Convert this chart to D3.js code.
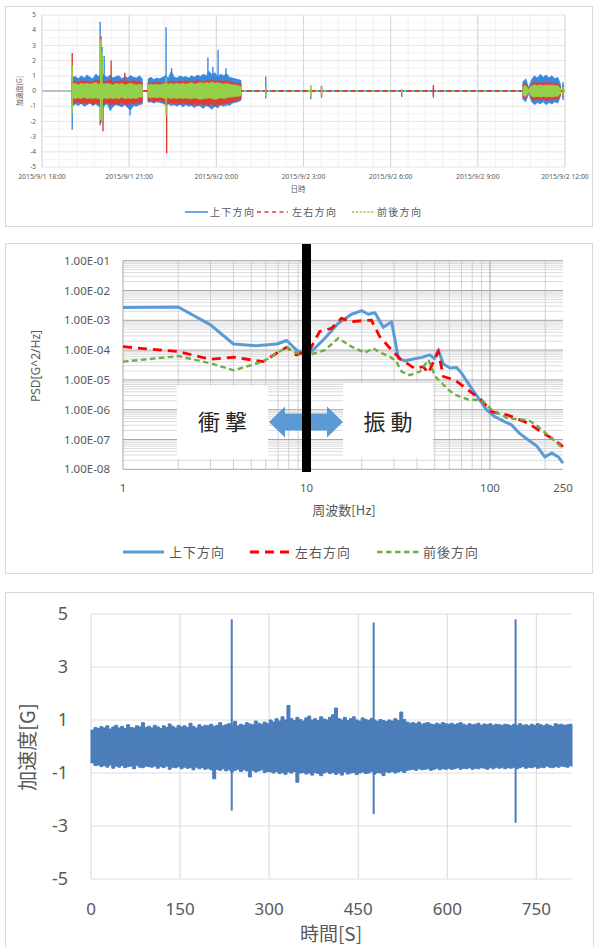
<!DOCTYPE html>
<html><head><meta charset="utf-8">
<script src="https://cdn.jsdelivr.net/npm/d3@7"></script>
<style>
html,body{margin:0;padding:0;background:#fff;}
svg{display:block;}
</style></head><body>
<svg id="c" width="595" height="947"></svg>
<script>
// ================= data =================
const seriesNames = ["上下方向", "左右方向", "前後方向"];

// --- Panel 1: acceleration record, hours after 2015/9/1 18:00 ---
const logTickHours = [0, 3, 6, 9, 12, 15, 18];
const logTickLabels = ["2015/9/1 18:00", "2015/9/1 21:00", "2015/9/2 0:00", "2015/9/2 3:00",
                       "2015/9/2 6:00", "2015/9/2 9:00", "2015/9/2 12:00"];
const logYTicks = [5, 4, 3, 2, 1, 0, -1, -2, -3, -4, -5];

// evening run: envelope (max / min per 0.1 h) starting at 1.05 h, null = no record
const eveStart = 1.05, eveStep = 0.1;
const eveHiUD = [0.9,0.95,0.8,1.0,0.85,1.05,0.9,0.8,1.1,0.95,1.2,1.0,0.9,1.05,0.85,0.95,1.0,0.8,0.95,0.85,1.0,0.9,0.85,1.0,0.8,
  null,0.8,0.9,0.75,0.85,0.8,0.9,1.0,0.85,1.3,0.9,0.85,1.0,0.9,0.95,0.85,1.0,0.9,1.05,0.95,1.1,1.0,1.3,1.05,1.2,0.95,1.1,1.0,1.15,0.9,0.85,0.8,0.75,0.7];
const eveLoUD = [-1.0,-0.85,-0.95,-0.8,-1.0,-0.9,-0.8,-0.95,-0.85,-1.0,-1.1,-0.9,-0.85,-1.3,-1.0,-0.9,-0.95,-1.05,-0.9,-1.1,-1.25,-0.95,-1.0,-0.9,-0.85,
  null,-0.75,-0.7,-0.8,-0.7,-0.75,-0.8,-0.9,-0.85,-0.95,-0.9,-1.0,-0.85,-1.05,-0.9,-1.0,-0.95,-1.1,-0.9,-1.0,-1.15,-0.95,-1.05,-1.2,-1.0,-1.1,-0.9,-1.0,-0.85,-0.95,-0.8,-0.75,-0.7,-0.6];
const eveHiLR = [0.6,0.65,0.55,0.7,0.6,0.65,0.55,0.6,0.7,0.65,0.75,0.6,0.65,0.7,0.55,0.65,0.6,0.7,0.55,0.65,0.6,0.7,0.6,0.65,0.55,
  null,0.5,0.55,0.5,0.6,0.55,0.5,0.6,0.55,0.65,0.6,0.55,0.65,0.6,0.7,0.6,0.65,0.6,0.7,0.65,0.6,0.7,0.65,0.75,0.6,0.7,0.65,0.6,0.7,0.6,0.55,0.5,0.5,0.45];
const eveLoLR = [-0.75,-0.8,-0.7,-0.85,-0.75,-0.8,-0.7,-0.9,-0.8,-0.85,-0.9,-0.8,-0.75,-0.9,-0.85,-0.8,-0.9,-0.75,-0.85,-0.95,-0.8,-0.85,-0.75,-0.8,-0.7,
  null,-0.65,-0.6,-0.7,-0.65,-0.6,-0.7,-0.75,-0.8,-0.75,-0.85,-0.8,-0.9,-0.75,-0.85,-0.8,-0.9,-0.85,-1.0,-0.8,-0.9,-0.85,-0.95,-0.8,-1.0,-0.85,-0.9,-0.8,-0.85,-0.75,-0.7,-0.65,-0.6,-0.5];
const eveHiFB = [0.45,0.5,0.4,0.5,0.45,0.5,0.45,0.5,0.55,0.45,0.5,0.45,0.5,0.45,0.4,0.5,0.45,0.5,0.4,0.45,0.5,0.45,0.4,0.45,0.4,
  null,0.4,0.45,0.4,0.45,0.4,0.45,0.5,0.45,0.5,0.45,0.5,0.45,0.5,0.45,0.5,0.55,0.45,0.5,0.55,0.5,0.55,0.5,0.6,0.5,0.55,0.5,0.45,0.5,0.45,0.4,0.4,0.35,0.3];
const eveLoFB = [-0.45,-0.5,-0.45,-0.5,-0.4,-0.5,-0.45,-0.5,-0.45,-0.5,-0.55,-0.45,-0.5,-0.45,-0.5,-0.45,-0.5,-0.4,-0.5,-0.45,-0.5,-0.45,-0.5,-0.4,-0.4,
  null,-0.4,-0.45,-0.4,-0.45,-0.4,-0.45,-0.5,-0.45,-0.5,-0.45,-0.5,-0.45,-0.5,-0.45,-0.5,-0.5,-0.45,-0.5,-0.55,-0.5,-0.5,-0.45,-0.5,-0.55,-0.5,-0.45,-0.5,-0.45,-0.4,-0.4,-0.35,-0.35,-0.3];

// morning run: envelope per 0.1 h starting at 16.55 h
const mornStart = 16.55, mornStep = 0.1;
const mornHiUD = [0.6,0.8,0.2,0.75,1.0,0.85,1.1,0.9,1.05,0.85,1.0,0.8,0.9,0.4];
const mornLoUD = [-0.55,-0.7,-0.15,-0.7,-0.9,-0.75,-0.85,-0.7,-0.9,-0.75,-0.85,-0.7,-0.8,-0.3];
const mornHiLR = [0.4,0.5,0.1,0.45,0.6,0.5,0.55,0.5,0.6,0.5,0.55,0.45,0.5,0.2];
const mornLoLR = [-0.4,-0.5,-0.1,-0.5,-0.6,-0.55,-0.6,-0.5,-0.65,-0.55,-0.6,-0.5,-0.55,-0.2];
const mornHiFB = [0.3,0.35,0.1,0.35,0.4,0.35,0.4,0.35,0.4,0.35,0.4,0.35,0.35,0.15];
const mornLoFB = [-0.3,-0.35,-0.1,-0.35,-0.4,-0.35,-0.4,-0.35,-0.4,-0.35,-0.4,-0.35,-0.35,-0.15];

// isolated peaks [hour, max, min]
const spikesUD = [[1.04,0.9,-2.55],[2.0,4.55,-2.25],[2.07,2.9,-1.2],[2.14,2.3,-1.0],[3.03,1.0,-1.6],[4.27,4.2,-0.9],
  [4.46,1.5,-0.9],[5.71,2.2,-1.0],[5.88,1.6,-1.0],[6.06,2.7,-1.1],[6.33,1.5,-1.0],[7.70,0.95,-0.5],[9.25,0.3,-0.55],
  [9.62,0.35,-0.45],[12.38,0.1,-0.4],[13.47,0.2,-0.45],[17.93,0.6,-0.6]];
const spikesLR = [[1.04,2.5,-0.8],[2.03,3.6,-2.1],[2.1,1.0,-2.65],[2.38,2.0,-0.8],[2.85,1.2,-0.9],[4.29,0.5,-4.1],
  [7.70,0.3,-0.2],[9.62,0.3,-0.3],[13.47,0.4,-0.3],[17.93,0.4,-0.4]];
const spikesFB = [[1.04,1.7,-1.45],[2.02,3.4,-1.9],[2.07,2.6,-2.0],[4.27,0.9,-1.6],[7.70,0.3,-0.3],[9.25,0.4,-0.4],
  [9.62,0.3,-0.3],[12.38,0.1,-0.1],[17.93,0.3,-0.3]];

// --- Panel 2: PSD [frequency Hz, G^2/Hz] ---
const psdUD = [[1,2.7e-3],[2,2.8e-3],[3,7e-4],[4,1.6e-4],[5.3,1.4e-4],[6.9,1.6e-4],[7.8,2.1e-4],[9,9e-5],[10.4,7.8e-5],
  [12.6,2.5e-4],[14.9,7.9e-4],[17.6,1.6e-3],[20,2.1e-3],[21.7,1.6e-3],[23.6,1.8e-3],[26.2,5.8e-4],[29.1,8.9e-4],
  [31.7,5.2e-5],[34.4,4.4e-5],[42.4,5.7e-5],[47,6.9e-5],[49.7,5.2e-5],[52.3,1e-4],[55.7,3.4e-5],[60.5,2.5e-5],
  [65.8,2.6e-5],[70.1,1.66e-5],[79.4,5.2e-6],[95.9,9.8e-7],[106,5.9e-7],[120,4e-7],[131,3.1e-7],[145,1.6e-7],
  [162,9.6e-8],[180,6e-8],[199,2.6e-8],[217,3.5e-8],[236,2.6e-8],[250,1.6e-8]];
const psdLR = [[1,1.3e-4],[2,8.9e-5],[3,4.9e-5],[4,5.8e-5],[5.8,4.1e-5],[7.8,1.26e-4],[8.8,6.9e-5],[10.4,1e-4],
  [11.8,4.2e-4],[13.7,5.4e-4],[15.5,1.17e-3],[17.3,8.9e-4],[20,9.7e-4],[22.6,1e-3],[25.1,2.8e-4],[29.1,1e-4],
  [32.3,5.2e-5],[39,2.4e-5],[43.3,2.8e-5],[46.2,1.7e-5],[48.3,3.2e-5],[52.3,8.9e-5],[55.7,1.3e-5],[64.3,1e-5],
  [75.9,4.6e-6],[90,2.1e-6],[102,8.6e-7],[125,6.6e-7],[162,3.5e-7],[183,2.1e-7],[217,1.1e-7],[250,5.8e-8]];
const psdFB = [[1,4.1e-5],[2,6.3e-5],[3,3.6e-5],[4,2.1e-5],[5.8,4.1e-5],[7.8,1.26e-4],[8.8,8e-5],[10.4,6.9e-5],
  [12.6,1e-4],[14.9,2.5e-4],[17.6,1.3e-4],[20.8,8.1e-5],[23.1,1.15e-4],[25.7,7.9e-5],[28.5,6e-5],[30.9,4.1e-5],
  [33,1.9e-5],[36.6,1.45e-5],[41.5,1.9e-5],[46.2,4.7e-5],[50.3,1.3e-5],[59.5,4.6e-6],[64.3,3.2e-6],[75.9,2.2e-6],
  [90,2.1e-6],[102,1e-6],[125,5.1e-7],[162,4.5e-7],[183,2.7e-7],[217,1.1e-7],[250,5e-8]];
const psdXTicks = [1, 10, 100, 250];
const psdYTicks = [1e-1, 1e-2, 1e-3, 1e-4, 1e-5, 1e-6, 1e-7, 1e-8];
const psdYLabels = ["1.00E-01","1.00E-02","1.00E-03","1.00E-04","1.00E-05","1.00E-06","1.00E-07","1.00E-08"];
const boundaryHz = 10;
const regionLabels = ["衝 撃", "振 動"];

// --- Panel 3: vertical acceleration, envelope per 5 s ---
const timeStep = 5;
const timeHi = [0.62,0.72,0.68,0.75,0.7,0.78,0.66,0.74,0.8,0.7,0.76,0.68,0.82,0.72,0.7,0.78,0.74,0.9,0.72,0.76,
  0.7,0.8,0.74,0.68,0.78,0.72,0.85,0.76,0.7,0.8,0.74,0.78,0.72,0.88,0.76,0.7,0.82,0.75,0.8,0.78,
  0.84,0.76,0.8,0.9,0.78,0.82,0.86,0.8,0.95,0.78,0.84,0.8,0.9,0.85,0.82,0.96,0.88,0.84,0.92,0.86,
  1.0,0.92,1.05,0.96,1.12,1.0,1.55,1.05,0.98,1.1,1.02,0.96,1.08,1.15,1.0,1.05,0.98,1.12,1.04,1.0,
  1.1,1.2,1.45,1.05,1.0,1.1,0.98,1.05,1.12,1.0,0.96,1.08,1.02,0.98,1.06,1.0,0.95,1.02,0.98,0.94,
  1.0,0.96,1.05,0.98,1.3,1.02,0.92,0.88,0.9,0.86,0.92,0.84,0.88,0.9,0.85,0.82,0.88,0.84,0.9,0.86,
  0.84,0.88,0.82,0.86,0.9,0.84,0.8,0.86,0.82,0.84,0.88,0.8,0.85,0.82,0.86,0.8,0.84,0.82,0.8,0.84,
  0.82,0.78,0.84,0.8,0.86,0.8,0.82,0.78,0.84,0.8,0.86,0.82,0.78,0.84,0.8,0.76,0.86,0.82,0.84,0.8,
  0.82,0.84,0.8];
const timeLo = [-0.62,-0.72,-0.7,-0.76,-0.72,-0.78,-0.7,-0.82,-0.74,-0.78,-0.72,-0.8,-0.76,-0.74,-0.84,-0.72,-0.78,-0.8,-0.74,-0.76,
  -0.78,-0.74,-0.82,-0.76,-0.8,-0.74,-0.86,-0.78,-0.8,-0.76,-0.84,-0.78,-0.82,-0.8,-0.88,-0.78,-0.84,-0.8,-0.86,-0.82,
  -0.88,-1.22,-0.86,-0.9,-0.84,-0.92,-0.88,-0.96,-0.9,-0.86,-0.94,-0.88,-0.92,-1.15,-0.9,-0.96,-0.92,-0.88,-0.98,-0.94,
  -0.96,-1.0,-0.94,-1.02,-0.98,-1.05,-0.96,-1.0,-0.94,-1.35,-1.0,-0.98,-1.04,-1.0,-1.08,-0.98,-1.02,-1.1,-1.0,-0.96,
  -1.02,-0.98,-1.05,-1.0,-1.08,-0.96,-1.04,-1.0,-0.98,-1.06,-1.0,-0.96,-1.02,-1.0,-0.94,-1.04,-0.98,-1.0,-1.1,-0.96,
  -0.98,-0.94,-1.0,-0.96,-0.92,-0.98,-0.9,-0.88,-0.86,-0.9,-0.84,-0.88,-0.86,-0.84,-0.9,-0.86,-0.82,-0.88,-0.84,-0.86,
  -0.82,-0.86,-0.84,-0.8,-0.86,-0.82,-0.84,-0.8,-0.86,-0.82,-0.84,-0.8,-0.82,-0.86,-0.8,-0.84,-0.78,-0.82,-0.8,-0.84,
  -0.8,-0.82,-0.78,-0.84,-0.8,-0.76,-0.82,-0.78,-0.8,-0.76,-0.82,-0.78,-0.8,-0.74,-0.78,-0.8,-0.76,-0.78,-0.74,-0.76,
  -0.78,-0.72,-0.76];
const timeSpikes = [[237, 4.8, -2.42], [476, 4.68, -2.55], [715, 4.8, -2.88]];
const timeXTicks = [0, 150, 300, 450, 600, 750];
const timeYTicks = [5, 3, 1, -1, -3, -5];

// ================= drawing =================
const svg = d3.select("#c");
const NUM = "'Noto Sans','Open Sans',sans-serif";
const CJK = "'Noto Sans CJK JP','Noto Sans',sans-serif";
const LABEL = "#595959";

// chart frames
[[5.5, 6.5, 587, 220], [5.5, 243.5, 587, 330], [5.5, 592.5, 588, 360]].forEach(([x, y, w, h]) =>
  svg.append("rect").attr("x", x).attr("y", y).attr("width", w).attr("height", h)
    .attr("fill", "none").attr("stroke", "#d9d9d9").attr("stroke-width", 1));

// ---------- Panel 1 ----------
(function () {
  const g = svg.append("g");
  const x = d3.scaleLinear().domain([0, 18]).range([42, 565]);
  const y = d3.scaleLinear().domain([-5, 5]).range([167, 15]);
  const cUD = "#3a89e0", cLR = "#e23b33", cFB = "#94d04a";

  // grid
  d3.range(0, 18.01, 0.6).forEach(h => g.append("line").attr("x1", x(h)).attr("x2", x(h))
    .attr("y1", y(5)).attr("y2", y(-5)).attr("stroke", "#eeeeee").attr("stroke-width", 0.8));
  d3.range(-5, 5.01, 0.5).forEach(v => g.append("line").attr("x1", x(0)).attr("x2", x(18))
    .attr("y1", y(v)).attr("y2", y(v)).attr("stroke", Number.isInteger(v) ? "#dedede" : "#f1f1f1").attr("stroke-width", 0.8));
  logTickHours.forEach(h => g.append("line").attr("x1", x(h)).attr("x2", x(h))
    .attr("y1", y(5)).attr("y2", y(-5)).attr("stroke", "#d6d6d6").attr("stroke-width", 1));

  // zero axis
  g.append("line").attr("x1", x(0)).attr("x2", x(18)).attr("y1", y(0)).attr("y2", y(0))
    .attr("stroke", "#8c8c8c").attr("stroke-width", 1.2);

  // labels
  g.selectAll(".yt").data(logYTicks).join("text").attr("x", 36).attr("y", d => y(d))
    .attr("dy", "0.35em").attr("text-anchor", "end").attr("font-family", NUM).attr("font-size", 6.5)
    .attr("fill", LABEL).text(d => d);
  g.selectAll(".xt").data(logTickHours).join("text").attr("x", d => x(d)).attr("y", 177)
    .attr("dy", "0.35em").attr("text-anchor", "middle").attr("font-family", NUM).attr("font-size", 6.8)
    .attr("fill", LABEL).text((d, i) => logTickLabels[i]);
  g.append("text").attr("x", 298).attr("y", 189).attr("dy", "0.35em").attr("text-anchor", "middle")
    .attr("font-family", CJK).attr("font-size", 7.5).attr("fill", LABEL).text("日時");
  g.append("text").attr("transform", "translate(20,91) rotate(-90)").attr("dy", "0.35em")
    .attr("text-anchor", "middle").attr("font-family", CJK).attr("font-size", 7).attr("fill", LABEL).text("加速度[G]");

  const toRows = (start, step, hi, lo) => hi.map((v, i) => ({ h: start + i * step, hi: v, lo: lo[i] }));
  const area = d3.area().defined(d => d.hi != null).x(d => x(d.h)).y0(d => y(d.lo)).y1(d => y(d.hi));
  const flat = d3.line().x(d => x(d[0])).y(d => y(d[1]));
  const quiet = [[1.03, 0], [18, 0]];

  // idle stretches: the three channels sit on zero
  g.append("path").attr("d", flat(quiet)).attr("fill", "none").attr("stroke", cUD).attr("stroke-width", 2);
  g.append("path").attr("d", flat(quiet)).attr("fill", "none").attr("stroke", cLR).attr("stroke-width", 2).attr("stroke-dasharray", "3,5");
  g.append("path").attr("d", flat(quiet)).attr("fill", "none").attr("stroke", cFB).attr("stroke-width", 2).attr("stroke-dasharray", "2,6").attr("stroke-dashoffset", 4);

  const layers = [
    [cUD, eveHiUD, eveLoUD, mornHiUD, mornLoUD, spikesUD],
    [cLR, eveHiLR, eveLoLR, mornHiLR, mornLoLR, spikesLR],
    [cFB, eveHiFB, eveLoFB, mornHiFB, mornLoFB, spikesFB]
  ];
  layers.forEach(([c, eh, el, mh, ml, sp]) => {
    g.append("path").attr("d", area(toRows(eveStart, eveStep, eh, el))).attr("fill", c)
      .attr("stroke", c).attr("stroke-width", 0.8);
    g.append("path").attr("d", area(toRows(mornStart, mornStep, mh, ml))).attr("fill", c)
      .attr("stroke", c).attr("stroke-width", 0.8);
    g.selectAll(null).data(sp).join("line").attr("x1", d => x(d[0])).attr("x2", d => x(d[0]))
      .attr("y1", d => y(d[1])).attr("y2", d => y(d[2])).attr("stroke", c).attr("stroke-width", 1.4);
  });

  // legend
  const ly = 212;
  const lg = svg.append("g").attr("font-family", CJK).attr("font-size", 10).attr("fill", LABEL).attr("letter-spacing", 1.3);
  lg.append("line").attr("x1", 185).attr("x2", 208).attr("y1", ly).attr("y2", ly).attr("stroke", cUD).attr("stroke-width", 1.5);
  lg.append("text").attr("x", 210).attr("y", ly).attr("dy", "0.35em").text(seriesNames[0]);
  lg.append("line").attr("x1", 257).attr("x2", 288).attr("y1", ly).attr("y2", ly).attr("stroke", cLR).attr("stroke-width", 1.5).attr("stroke-dasharray", "4,3.5");
  lg.append("text").attr("x", 292).attr("y", ly).attr("dy", "0.35em").text(seriesNames[1]);
  lg.append("line").attr("x1", 352).attr("x2", 375).attr("y1", ly).attr("y2", ly).attr("stroke", cFB).attr("stroke-width", 1.3).attr("stroke-dasharray", "2.2,1.6");
  lg.append("text").attr("x", 377).attr("y", ly).attr("dy", "0.35em").text(seriesNames[2]);
})();

// ---------- Panel 2 ----------
(function () {
  const g = svg.append("g");
  const x = d3.scaleLog().domain([1, 250]).range([123, 563]);
  const y = d3.scaleLog().domain([1e-8, 1e-1]).range([469.3, 260.7]);
  const cUD = "#5b9bd5", cLR = "#ff0000", cFB = "#70ad47";

  // minor horizontal grid
  for (let e = -8; e < -1; e++) for (let k = 2; k <= 9; k++) {
    const v = k * Math.pow(10, e);
    g.append("line").attr("x1", x(1)).attr("x2", x(250)).attr("y1", y(v)).attr("y2", y(v))
      .attr("stroke", "#dcdcdc").attr("stroke-width", 1);
  }
  // vertical grid
  const vx = [];
  [1, 10, 100].forEach(b => { for (let k = 1; k <= 9; k++) if (b * k <= 250) vx.push(b * k); });
  vx.forEach(f => g.append("line").attr("x1", x(f)).attr("x2", x(f)).attr("y1", y(1e-1)).attr("y2", y(1e-8))
    .attr("stroke", [1, 10, 100].includes(f) ? "#a6a6a6" : "#d0d0d0").attr("stroke-width", 1));
  // decade lines
  psdYTicks.forEach(v => g.append("line").attr("x1", x(1)).attr("x2", x(250)).attr("y1", y(v)).attr("y2", y(v))
    .attr("stroke", "#a6a6a6").attr("stroke-width", 1));

  // tick labels
  g.selectAll(".yt").data(psdYTicks).join("text").attr("x", 110).attr("y", d => y(d)).attr("dy", "0.35em")
    .attr("text-anchor", "end").attr("font-family", NUM).attr("font-size", 11.5).attr("fill", LABEL)
    .text((d, i) => psdYLabels[i]);
  g.selectAll(".xt").data(psdXTicks).join("text").attr("x", d => x(d)).attr("y", 488).attr("dy", "0.35em")
    .attr("text-anchor", "middle").attr("font-family", NUM).attr("font-size", 11.5).attr("fill", LABEL).text(d => d);
  g.append("text").attr("x", 344).attr("y", 510).attr("dy", "0.35em").attr("text-anchor", "middle")
    .attr("font-family", CJK).attr("font-size", 13).attr("fill", LABEL).text("周波数[Hz]");
  g.append("text").attr("transform", "translate(36,366) rotate(-90)").attr("dy", "0.35em")
    .attr("text-anchor", "middle").attr("font-family", NUM).attr("font-size", 12).attr("fill", LABEL).text("PSD[G^2/Hz]");

  // curves
  const line = d3.line().x(d => x(d[0])).y(d => y(d[1]));
  g.append("path").attr("d", line(psdUD)).attr("fill", "none").attr("stroke", cUD).attr("stroke-width", 3).attr("stroke-linejoin", "round");
  g.append("path").attr("d", line(psdLR)).attr("fill", "none").attr("stroke", cLR).attr("stroke-width", 2.8).attr("stroke-dasharray", "9,6");
  g.append("path").attr("d", line(psdFB)).attr("fill", "none").attr("stroke", cFB).attr("stroke-width", 2.4).attr("stroke-dasharray", "5.5,3.5");

  // region boxes
  const boxes = [[177, 386, 91, 73, regionLabels[0]], [343, 383, 90, 75, regionLabels[1]]];
  boxes.forEach(([bx, by, bw, bh, t]) => {
    g.append("rect").attr("x", bx).attr("y", by).attr("width", bw).attr("height", bh).attr("fill", "#fff");
    g.append("text").attr("x", bx + bw / 2).attr("y", 422).attr("dy", "0.36em").attr("text-anchor", "middle")
      .attr("font-family", CJK).attr("font-size", 22).attr("fill", "#262626").text(t);
  });

  // double arrow across the boundary
  const ay = 422;
  const arrow = [[269, ay], [285, ay - 15.5], [285, ay - 8.5], [327, ay - 8.5], [327, ay - 15.5], [343, ay],
                 [327, ay + 15.5], [327, ay + 8.5], [285, ay + 8.5], [285, ay + 15.5]];
  g.append("polygon").attr("points", arrow.map(p => p.join(",")).join(" ")).attr("fill", cUD);

  // boundary at 10 Hz
  g.append("line").attr("x1", x(boundaryHz)).attr("x2", x(boundaryHz)).attr("y1", 244).attr("y2", 472)
    .attr("stroke", "#000").attr("stroke-width", 9);

  // legend
  const ly = 552;
  const lg = svg.append("g").attr("font-family", CJK).attr("font-size", 13).attr("fill", LABEL).attr("letter-spacing", 1);
  lg.append("line").attr("x1", 123).attr("x2", 164).attr("y1", ly).attr("y2", ly).attr("stroke", cUD).attr("stroke-width", 3);
  lg.append("text").attr("x", 169).attr("y", ly).attr("dy", "0.35em").text(seriesNames[0]);
  lg.append("line").attr("x1", 250).attr("x2", 291).attr("y1", ly).attr("y2", ly).attr("stroke", cLR).attr("stroke-width", 2.8).attr("stroke-dasharray", "9,6");
  lg.append("text").attr("x", 295).attr("y", ly).attr("dy", "0.35em").text(seriesNames[1]);
  lg.append("line").attr("x1", 377).attr("x2", 419).attr("y1", ly).attr("y2", ly).attr("stroke", cFB).attr("stroke-width", 2.4).attr("stroke-dasharray", "5.5,3.5");
  lg.append("text").attr("x", 423).attr("y", ly).attr("dy", "0.35em").text(seriesNames[2]);
})();

// ---------- Panel 3 ----------
(function () {
  const g = svg.append("g");
  const x = d3.scaleLinear().domain([0, 810]).range([91, 572]);
  const y = d3.scaleLinear().domain([-5, 5]).range([879, 614]);
  const c = "#4a7dba";

  timeXTicks.forEach(t => g.append("line").attr("x1", x(t)).attr("x2", x(t)).attr("y1", y(5)).attr("y2", y(-5))
    .attr("stroke", "#dedede").attr("stroke-width", 1.2));
  timeYTicks.forEach(v => g.append("line").attr("x1", x(0)).attr("x2", x(810)).attr("y1", y(v)).attr("y2", y(v))
    .attr("stroke", "#dedede").attr("stroke-width", 1.2));

  g.selectAll(".yt").data(timeYTicks).join("text").attr("x", 68).attr("y", d => y(d)).attr("dy", "0.36em")
    .attr("text-anchor", "end").attr("font-family", NUM).attr("font-size", 18).attr("fill", LABEL).text(d => d);
  g.selectAll(".xt").data(timeXTicks).join("text").attr("x", d => x(d)).attr("y", 909).attr("dy", "0.36em")
    .attr("text-anchor", "middle").attr("font-family", NUM).attr("font-size", 17).attr("fill", LABEL).text(d => d);
  g.append("text").attr("x", 331).attr("y", 934).attr("dy", "0.36em").attr("text-anchor", "middle")
    .attr("font-family", CJK).attr("font-size", 19).attr("fill", LABEL).text("時間[S]");
  g.append("text").attr("transform", "translate(28,747) rotate(-90)").attr("dy", "0.36em")
    .attr("text-anchor", "middle").attr("font-family", CJK).attr("font-size", 20).attr("fill", LABEL).text("加速度[G]");

  const rows = timeHi.map((v, i) => ({ t: i * timeStep, hi: v, lo: timeLo[i] }));
  const area = d3.area().curve(d3.curveStepAfter).x(d => x(d.t)).y0(d => y(d.lo)).y1(d => y(d.hi));
  g.append("path").attr("d", area(rows)).attr("fill", c).attr("stroke", c).attr("stroke-width", 1);
  g.selectAll(null).data(timeSpikes).join("line").attr("x1", d => x(d[0])).attr("x2", d => x(d[0]))
    .attr("y1", d => y(d[1])).attr("y2", d => y(d[2])).attr("stroke", c).attr("stroke-width", 2);
})();
</script>
</body></html>
